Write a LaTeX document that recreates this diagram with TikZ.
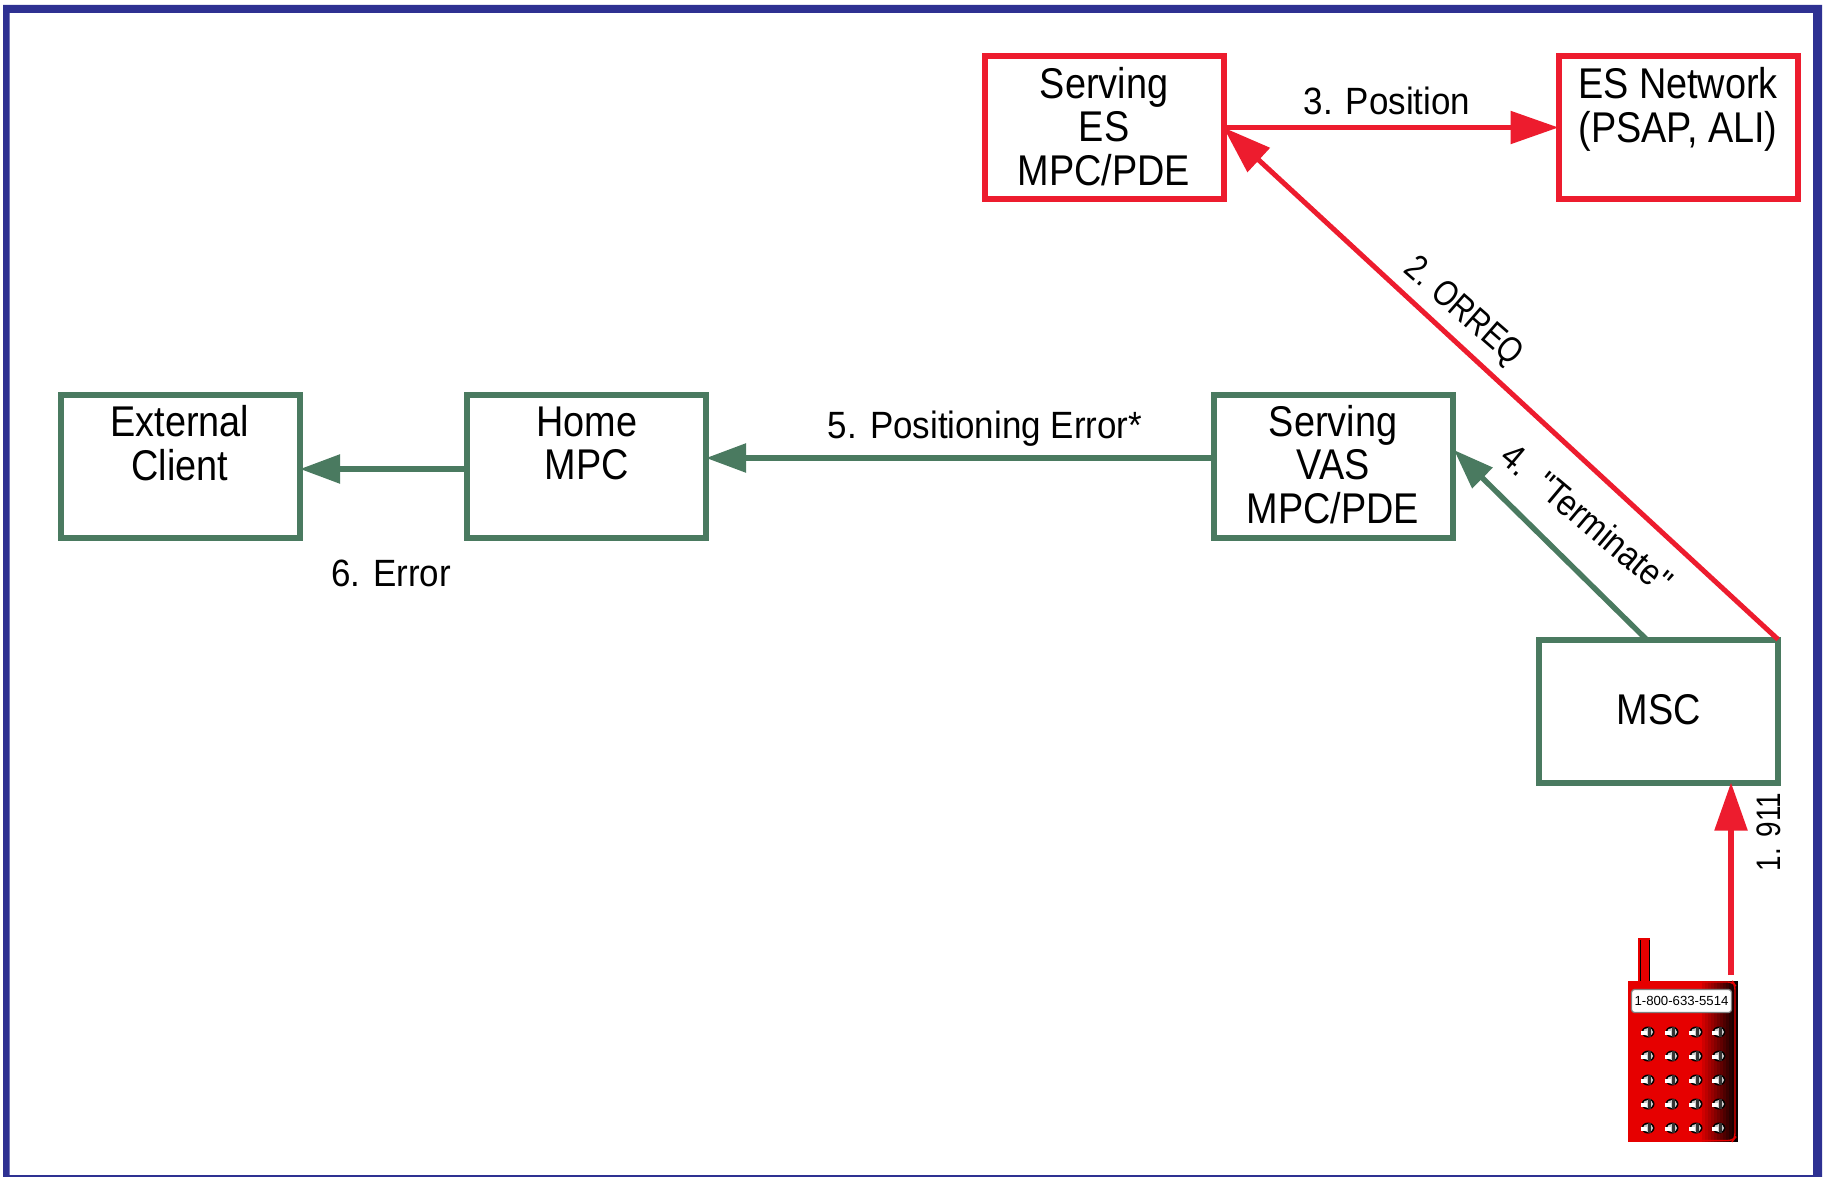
\documentclass[tikz,border=0pt]{standalone}
\usepackage{fontspec}
\setmainfont{Liberation Sans}
\newfontfamily\boxfont[FakeStretch=0.88]{Liberation Sans}
\newfontfamily\labfont[FakeStretch=0.92]{Liberation Sans}
\newfontfamily\rotfont[FakeStretch=0.82]{Liberation Sans}
\newfontfamily\rotwfont[FakeStretch=0.88]{Liberation Sans}
\usetikzlibrary{arrows.meta,calc}
\definecolor{fred}{HTML}{ED1C2E}
\definecolor{fgreen}{HTML}{4A7A60}
\definecolor{fblue}{HTML}{2E3192}
\definecolor{pred}{HTML}{E60000}
\newcommand{\boxtext}[1]{\raisebox{-2.5pt}[\height][\depth]{\begin{tabular}{@{}c@{}}#1\end{tabular}}}
\tikzset{
  x=0.5pt,y=-0.5pt,
  bx/.style={draw,line width=3pt,fill=white,minimum width=119.5pt,minimum height=71.5pt,inner sep=0pt,outer sep=0pt,font=\boxfont\fontsize{21.5}{21.3}\selectfont},
  redbox/.style={bx,draw=fred},
  greenbox/.style={bx,draw=fgreen},
  redarrow/.style={draw=fred,line width=2.7pt,-{Triangle[length=24pt,width=16pt,fill=fred]}},
  greenarrow/.style={draw=fgreen,line width=2.7pt,-{Triangle[length=20pt,width=14pt,fill=fgreen]}},
  lab/.style={font=\labfont\fontsize{19}{20}\selectfont,inner sep=0pt}
}
\begin{document}
\begin{tikzpicture}
\useasboundingbox (0,0) rectangle (1825,1177);
\fill[white] (0,0) rectangle (1825,1177);
\fill[fblue,even odd rule] (3,5) rectangle (1822,1177) (9.5,13) rectangle (1813,1175);
% boxes
\node[redbox] (ses) at (1104,127.5) {\boxtext{Serving\\ES\\MPC/PDE}};
\node[redbox] (esn) at (1678,127.5) {\boxtext{ES Network\\(PSAP, ALI)\\ \mbox{}}};
\node[greenbox] (ext) at (180,466) {\boxtext{External\\Client\\ \mbox{}}};
\node[greenbox] (home) at (586.6,466) {\boxtext{Home\\MPC\\ \mbox{}}};
\node[greenbox] (vas) at (1333,466) {\boxtext{Serving\\VAS\\MPC/PDE}};
\node[greenbox] (msc) at (1658.6,711) {\boxtext{MSC}};
% connector ends
\coordinate (vasw) at (1213,458);
\coordinate (homee) at (706,458);
\coordinate (homew) at (467,469);
\coordinate (exte) at (300,469);
\coordinate (vase) at (1454,450);
\coordinate (msct) at (1646,639);
\coordinate (phonetop) at (1731,975);
% connectors
\draw[redarrow] (ses.east) -- (esn.west);
\draw[redarrow,line width=2.5pt] (msc.north east) -- (ses.east);
\draw[greenarrow] (msct) -- (vase);
\draw[greenarrow] (vasw) -- (homee);
\draw[greenarrow] (homew) -- (exte);
\draw[redarrow] (phonetop) -- (phonetop |- msc.south);
% labels
\node[lab] (l3) at (1387,101) {3. Position};
\node[lab,rotate=-41,font=\rotfont\fontsize{18}{20}\selectfont] (l2) at (1463,312) {2. ORREQ};
\node[lab,rotate=-40,font=\rotwfont\fontsize{18.4}{20}\selectfont] (l4) at (1587,518) {4.\ \ "Terminate"};
\node[lab] (l5) at (985,429) {5. Positioning Error*};
\node[lab] (l6) at (391,573) {6. Error};
\node[lab,rotate=90,font=\rotfont\fontsize{17}{20}\selectfont] (l1) at (1769,832) {1. 911};
% phone
\fill[pred] (1638,938) rectangle (1650,981);
\draw[black,line width=0.5pt] (1640,940) -- (1640,981) (1649,940) -- (1649,981);
\fill[pred] (1628,981) rectangle (1738,1142);
\foreach \i in {0,...,11}{
  \pgfmathsetmacro{\xa}{1702+3*\i}
  \pgfmathsetmacro{\pc}{max(0,90-8*\i)}
  \fill[pred!\pc!black] (\xa,981) rectangle (1738,1142);
}
\fill[pred] (1628,981) rectangle (1702,986);
\fill[pred] (1628,1137) rectangle (1702,1142);
\draw[pred,line width=0.7pt,rounded corners=2.5pt] (1628,982) -- (1733,982) -- (1735,985) -- (1735,1138) -- (1733,1140.5) -- (1628,1140.5);
\node[draw=gray,line width=0.6pt,fill=white,rounded corners=1.5pt,minimum width=50pt,minimum height=11.5pt,inner sep=0pt,font=\fontsize{6.6}{8}\selectfont] (phone) at (1681.5,1001) {1-800-633-5514};
\foreach \kx in {1648,1672,1696,1719}{
  \foreach \ky in {1032,1056,1080,1104,1128}{
    \fill[black] (\kx,\ky) ellipse[x radius=6.5,y radius=5.5];
    \fill[gray!40] (\kx,\ky) ellipse[x radius=5,y radius=4];
    \fill[black!80] (\kx,\ky-5) rectangle (\kx+2.5,\ky+5);
    \fill[white] (\kx-7,\ky-1) rectangle (\kx-1,\ky+3);
  }
}
\end{tikzpicture}
\end{document}
